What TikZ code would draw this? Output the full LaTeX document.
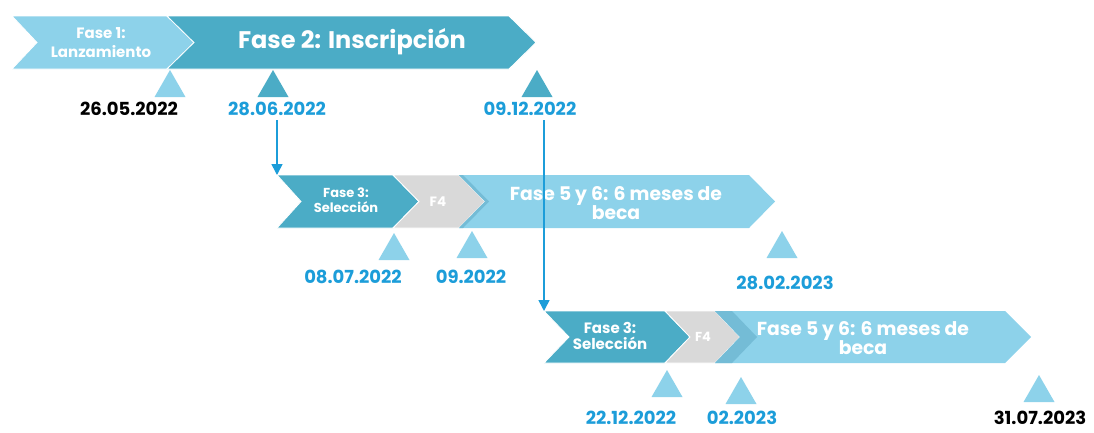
\documentclass[tikz,border=0pt]{standalone}
\usepackage{fontspec}
\setmainfont{Poppins}
\usetikzlibrary{arrows.meta}
\definecolor{lightblue}{HTML}{8DD2EA}
\definecolor{teal}{HTML}{4BACC6}
\definecolor{midblue}{HTML}{74BCD6}
\definecolor{greybox}{HTML}{D9D9D9}
\definecolor{dateblue}{HTML}{1C9DD9}
\tikzset{
    phase/.style={draw=white, line width=0.8pt},
    phasetext/.style={text=white, font=\bfseries, align=center, inner sep=0pt},
    datetext/.style={text=dateblue, font=\bfseries\fontsize{18}{18}\selectfont, inner sep=0pt},
    link/.style={draw=dateblue, line width=1.6pt, -{Triangle[length=11pt,width=11pt]}}
}
\begin{document}
\begin{tikzpicture}[x=1pt, y=-1pt]
    \useasboundingbox (0,0) rectangle (1094,432);
    % row 1
    \fill[lightblue, phase] (12,16) -- (167,16) -- (194,42.5) -- (167,69) -- (12,69) -- (37,42.5) -- cycle;
    \fill[teal, phase] (167,16) -- (509,16) -- (536,42.5) -- (509,69) -- (167,69) -- (194,42.5) -- cycle;
    \node[phasetext, font=\bfseries\fontsize{15}{19}\selectfont] (f1) at (101,42.5) {Fase 1:\\Lanzamiento};
    \node[phasetext, font=\fontsize{24}{24}\selectfont\bfseries] (f2) at (352,42) {Fase 2: Inscripción};
    % row 2
    \fill[teal, phase] (277,175) -- (393,175) -- (419,201.5) -- (393,228) -- (277,228) -- (301,201.5) -- cycle;
    \fill[greybox, phase] (393,175) -- (459,175) -- (485,201.5) -- (459,228) -- (393,228) -- (419,201.5) -- cycle;
    \fill[lightblue] (459,175) -- (749,175) -- (775,201.5) -- (749,228) -- (459,228) -- (485,201.5) -- cycle;
    \fill[midblue] (459,175) -- (463,175) -- (489,201.5) -- (463,228) -- (459,228) -- (485,201.5) -- cycle;
    \node[phasetext, font=\bfseries\fontsize{13}{15}\selectfont] (f3a) at (346,200.5) {Fase 3:\\Selección};
    \node[phasetext, font=\bfseries\fontsize{13.5}{14}\selectfont] (f4a) at (438,201.5) {F4};
    \node[phasetext, font=\bfseries\fontsize{18.8}{19.5}\selectfont] (f5a) at (616,203) {Fase 5 y 6: 6 meses de\\beca};
    % row 3
    \fill[teal, phase] (544,311) -- (665,311) -- (690,337) -- (665,363) -- (544,363) -- (569,337) -- cycle;
    \fill[greybox, phase] (665,311) -- (715,311) -- (740,337) -- (715,363) -- (665,363) -- (690,337) -- cycle;
    \fill[lightblue] (715,311) -- (1005,311) -- (1031,337) -- (1005,363) -- (715,363) -- (740,337) -- cycle;
    \fill[midblue] (715,311) -- (732,311) -- (757,337) -- (732,363) -- (715,363) -- (740,337) -- cycle;
    \node[phasetext, font=\bfseries\fontsize{15}{16}\selectfont] (f3b) at (610,336) {Fase 3:\\Selección};
    \node[phasetext, font=\bfseries\fontsize{13}{13}\selectfont] (f4b) at (703,337) {F4};
    \node[phasetext, font=\bfseries\fontsize{18.8}{19.5}\selectfont] (f5b) at (863,338) {Fase 5 y 6: 6 meses de\\beca};
    % markers
    \foreach \x/\top/\bot/\col in {170/70/97/lightblue, 273/70/97/teal, 537/70/97/teal,
        394/233/260/lightblue, 472/231/258/lightblue, 782/231/258/lightblue,
        667/370/397/lightblue, 741/377/404/lightblue, 1039/375/402/lightblue}
        \fill[\col] (\x-15.5,\bot) -- (\x,\top) -- (\x+15.5,\bot) -- cycle;
    % dates
    \node[datetext, text=black] (d1) at (129,109) {26.05.2022};
    \node[datetext] (d2) at (277,109) {28.06.2022};
    \node[datetext] (d3) at (530,109) {09.12.2022};
    \node[datetext] (d4) at (353,276.5) {08.07.2022};
    \node[datetext] (d5) at (471,276.5) {09.2022};
    \node[datetext] (d6) at (785,283) {28.02.2023};
    \node[datetext] (d7) at (631,418) {22.12.2022};
    \node[datetext] (d8) at (742,418) {02.2023};
    \node[datetext, text=black] (d9) at (1040,418) {31.07.2023};
    % links
    \coordinate (s3a) at (277,175);
    \coordinate (s3b) at (544,311);
    \draw[link] ([yshift=-4pt]d2.south -| s3a) -- (s3a);
    \draw[link] ([yshift=-4pt]d3.south -| s3b) -- (s3b);
\end{tikzpicture}
\end{document}
